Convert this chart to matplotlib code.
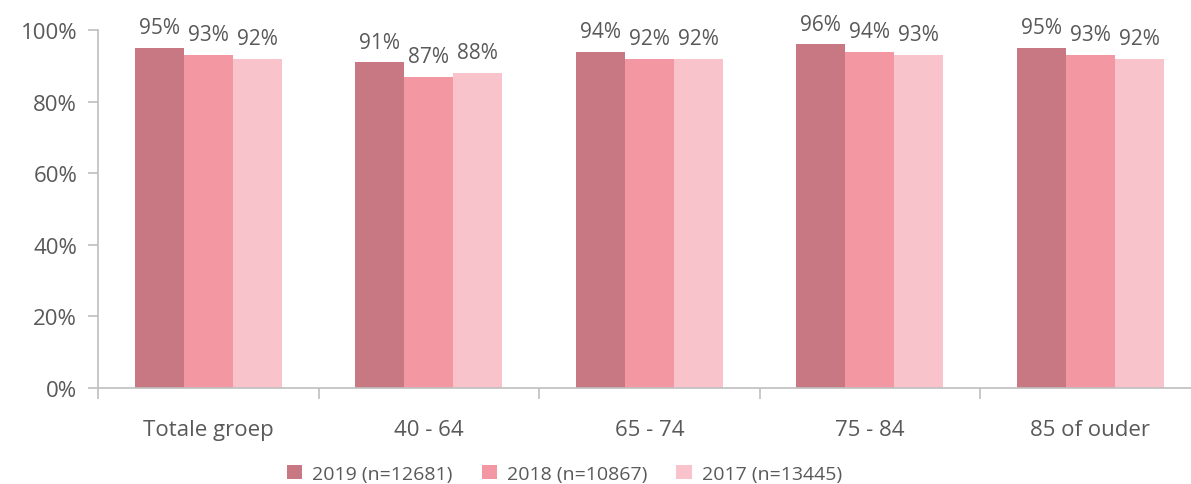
import matplotlib.pyplot as plt
import numpy as np
from matplotlib.ticker import FixedLocator, PercentFormatter

categories = ["Totale groep", "40 - 64", "65 - 74", "75 - 84", "85 of ouder"]
series_labels = ["2019 (n=12681)", "2018 (n=10867)", "2017 (n=13445)"]
values_2019 = [95, 91, 94, 96, 95]
values_2018 = [93, 87, 92, 94, 93]
values_2017 = [92, 88, 92, 93, 92]

colors = ["#C87882", "#F397A3", "#F8C3CA"]
text_color = "#595959"
axis_color = "#BFBFBF"

plt.rcParams["font.family"] = ["Open Sans", "DejaVu Sans"]

fig = plt.figure(figsize=(11.91, 4.85), dpi=100)
ax = fig.add_axes([0.0823, 0.198, 0.9257, 0.738])

x = np.arange(len(categories))
width = 0.222
series = [values_2019, values_2018, values_2017]
for k, (vals, lab, col) in enumerate(zip(series, series_labels, colors)):
    pos = x + (k - 1) * width
    ax.bar(pos, vals, width=width, color=col, label=lab, zorder=2)
    for px, v in zip(pos, vals):
        ax.annotate(f"{v}%", (px, v), xytext=(0, 7), textcoords="offset points",
                    ha="center", va="bottom", fontsize=15, color=text_color)

ax.set_xlim(-0.5, len(categories) - 0.5)
ax.set_ylim(0, 100)
ax.set_yticks(np.arange(0, 101, 20))
ax.yaxis.set_major_formatter(PercentFormatter(decimals=0))
ax.set_xticks(x)
ax.set_xticklabels(categories)
ax.xaxis.set_minor_locator(FixedLocator(np.arange(-0.5, len(categories), 1.0)))

ax.tick_params(axis="x", which="major", length=0, pad=22, labelsize=16, labelcolor=text_color)
ax.tick_params(axis="x", which="minor", length=8, color=axis_color, width=1.2)
ax.tick_params(axis="y", length=7, color=axis_color, width=1.2, labelsize=16,
               labelcolor=text_color, pad=8)

for side in ["top", "right"]:
    ax.spines[side].set_visible(False)
for side in ["left", "bottom"]:
    ax.spines[side].set_color(axis_color)
    ax.spines[side].set_linewidth(1.2)

leg = ax.legend(loc="upper center", bbox_to_anchor=(0.423, -0.165), ncol=3, frameon=False,
                fontsize=14, handlelength=0.8, handleheight=0.8, handletextpad=0.5,
                columnspacing=1.5)
for t in leg.get_texts():
    t.set_color(text_color)

fig.savefig("out.png", dpi=100)
